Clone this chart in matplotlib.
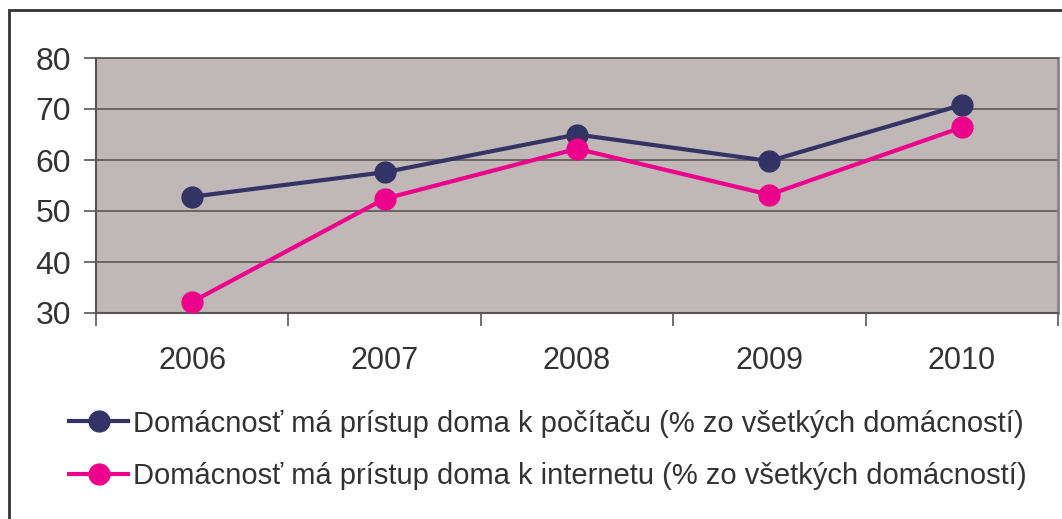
import matplotlib.pyplot as plt
from matplotlib.patches import Rectangle
from matplotlib.ticker import FixedLocator

plt.rcParams["font.family"] = ["Liberation Sans", "DejaVu Sans"]

years = ["2006", "2007", "2008", "2009", "2010"]
computer = [52.8, 57.6, 65.0, 59.8, 70.8]
internet = [32.2, 52.4, 62.2, 53.2, 66.4]
label_computer = "Domácnosť má prístup doma k počítaču (% zo všetkých domácností)"
label_internet = "Domácnosť má prístup doma k internetu (% zo všetkých domácností)"

navy = "#333366"
magenta = "#EC008C"
grid_col = "#5a5555"

fig = plt.figure(figsize=(10.62, 5.19), dpi=100)
ax = fig.add_axes([96 / 1062, 1 - 313 / 519, 962 / 1062, 255 / 519])
ax.set_facecolor("#C0B8B6")

x = list(range(len(years)))
ax.plot(x, computer, color=navy, lw=3, marker="o", ms=15, label=label_computer, zorder=3)
ax.plot(x, internet, color=magenta, lw=3, marker="o", ms=15, label=label_internet, zorder=3)

ax.set_xlim(-0.5, len(years) - 0.5)
ax.set_ylim(30, 80)
ax.set_yticks(range(30, 81, 10))
ax.yaxis.grid(True, color=grid_col, lw=1.2)
ax.set_axisbelow(True)

ax.set_xticks(x)
ax.set_xticklabels(years)
ax.xaxis.set_minor_locator(FixedLocator([i - 0.5 for i in range(len(years) + 1)]))
ax.tick_params(axis="x", which="major", length=0, pad=24, labelsize=22, labelcolor="#333333")
ax.tick_params(axis="x", which="minor", length=9, width=1.2, color=grid_col, direction="out")
ax.tick_params(axis="y", length=9, width=1.2, color=grid_col, pad=9, labelsize=23, labelcolor="#333333")

for side in ["left", "bottom"]:
    ax.spines[side].set_color(grid_col)
    ax.spines[side].set_linewidth(1.5)
ax.spines["right"].set_color("#8a8080")
ax.spines["right"].set_linewidth(2)
ax.spines["top"].set_color(grid_col)
ax.spines["top"].set_linewidth(1.2)

fig.legend(
    loc="upper left",
    bbox_to_anchor=(57 / 1062, 1 - 398 / 519),
    frameon=False,
    fontsize=21,
    handlelength=2.05,
    handletextpad=0.15,
    labelspacing=0.85,
    borderaxespad=0,
    labelcolor="#333333",
)

fig.patches.append(Rectangle((9 / 1062, -0.1), 1.2, 1 - 10 / 519 + 0.1,
                             transform=fig.transFigure, fill=False,
                             edgecolor="#333333", lw=2))

fig.savefig("out.png", dpi=100)
